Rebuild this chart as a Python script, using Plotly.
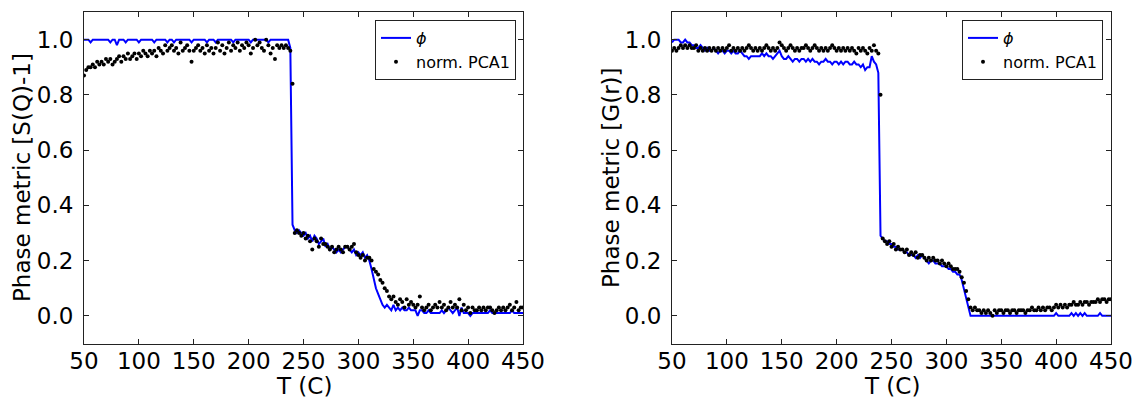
import plotly.graph_objects as go

T = list(range(50, 451, 2))

phi_sq = [
    1.00,1.00,1.00,0.99,1.00,1.00,1.00,1.00,1.00,1.00,
    1.00,1.00,0.99,1.00,1.00,0.98,1.00,1.00,1.00,0.99,
    1.00,1.00,1.00,1.00,1.00,0.99,1.00,1.00,1.00,1.00,
    1.00,1.00,0.99,1.00,1.00,1.00,1.00,1.00,0.99,1.00,
    1.00,0.99,1.00,1.00,1.00,1.00,1.00,1.00,1.00,0.99,
    1.00,1.00,1.00,1.00,1.00,1.00,0.99,1.00,1.00,1.00,
    0.99,1.00,1.00,1.00,1.00,1.00,1.00,1.00,0.99,1.00,
    1.00,1.00,1.00,1.00,1.00,1.00,0.99,1.00,1.00,1.00,
    1.00,1.00,1.00,1.00,0.99,1.00,1.00,1.00,1.00,1.00,
    1.00,1.00,1.00,1.00,0.97,0.33,0.31,0.30,0.31,0.30,
    0.29,0.30,0.28,0.29,0.27,0.29,0.28,0.26,0.27,0.28,
    0.25,0.26,0.24,0.25,0.24,0.23,0.24,0.23,0.24,0.25,
    0.25,0.24,0.23,0.24,0.22,0.23,0.22,0.23,0.21,0.22,
    0.20,0.17,0.13,0.10,0.08,0.06,0.04,0.03,0.04,0.03,
    0.02,0.04,0.02,0.03,0.02,0.03,0.02,0.02,0.03,0.02,
    0.02,0.02,0.00,0.02,0.02,0.01,0.01,0.02,0.01,0.01,
    0.01,0.01,0.01,0.02,0.01,0.02,0.03,0.02,0.01,0.02,
    0.03,0.00,0.03,0.01,0.01,0.01,0.00,0.01,0.01,0.01,
    0.01,0.01,0.01,0.01,0.01,0.02,0.01,0.01,0.01,0.01,
    0.01,0.01,0.01,0.01,0.01,0.02,0.01,0.01,0.01,0.01,
    0.01,
]

pca_sq = [
    0.87,0.89,0.90,0.90,0.91,0.90,0.92,0.91,0.92,0.91,
    0.93,0.92,0.93,0.91,0.92,0.93,0.94,0.92,0.94,0.93,
    0.95,0.93,0.94,0.95,0.93,0.95,0.94,0.96,0.95,0.94,
    0.96,0.95,0.96,0.94,0.97,0.96,0.95,0.98,0.96,0.97,
    0.98,0.96,0.97,0.95,0.99,0.96,0.97,0.98,0.96,0.92,
    0.96,0.97,0.98,0.96,0.97,0.95,0.98,0.96,0.97,0.95,
    0.97,0.99,0.96,0.98,0.95,0.97,0.99,0.96,0.98,0.97,
    0.99,0.96,0.98,0.97,0.99,0.98,0.95,0.97,1.00,0.98,
    0.99,0.97,0.96,1.00,0.98,0.95,0.97,0.93,0.98,0.97,
    0.98,0.97,0.98,0.97,0.96,0.84,0.30,0.31,0.30,0.29,
    0.30,0.28,0.29,0.27,0.24,0.28,0.27,0.25,0.28,0.26,
    0.26,0.25,0.24,0.25,0.23,0.24,0.25,0.24,0.23,0.25,
    0.25,0.24,0.25,0.26,0.23,0.22,0.21,0.22,0.20,0.21,
    0.21,0.20,0.17,0.16,0.15,0.13,0.12,0.10,0.09,0.07,
    0.06,0.07,0.05,0.04,0.06,0.05,0.03,0.06,0.04,0.05,
    0.04,0.03,0.04,0.07,0.03,0.02,0.03,0.04,0.02,0.03,
    0.04,0.03,0.05,0.03,0.04,0.02,0.03,0.05,0.03,0.04,
    0.03,0.06,0.02,0.04,0.02,0.03,0.01,0.03,0.02,0.02,
    0.03,0.02,0.03,0.02,0.03,0.03,0.02,0.01,0.02,0.03,
    0.02,0.03,0.02,0.03,0.04,0.02,0.03,0.05,0.02,0.03,
    0.03,
]

phi_gr = [
    0.99,1.00,1.00,1.00,0.99,0.99,1.00,0.99,0.99,0.98,
    0.98,0.97,0.97,0.98,0.97,0.96,0.97,0.96,0.96,0.97,
    0.96,0.95,0.96,0.96,0.95,0.96,0.96,0.95,0.96,0.95,
    0.95,0.96,0.95,0.94,0.94,0.93,0.94,0.94,0.94,0.94,
    0.94,0.95,0.94,0.95,0.94,0.94,0.93,0.94,0.95,0.96,
    0.94,0.93,0.93,0.94,0.93,0.92,0.93,0.93,0.92,0.93,
    0.93,0.92,0.93,0.92,0.93,0.92,0.92,0.91,0.92,0.92,
    0.93,0.92,0.92,0.91,0.92,0.92,0.91,0.92,0.91,0.92,
    0.92,0.91,0.91,0.92,0.91,0.91,0.90,0.91,0.89,0.90,
    0.90,0.94,0.92,0.91,0.88,0.29,0.28,0.27,0.27,0.26,
    0.26,0.25,0.25,0.24,0.24,0.24,0.23,0.23,0.22,0.22,
    0.22,0.21,0.22,0.21,0.22,0.21,0.20,0.19,0.20,0.20,
    0.19,0.19,0.19,0.18,0.18,0.18,0.17,0.17,0.16,0.16,
    0.15,0.15,0.13,0.10,0.07,0.03,0.00,0.00,0.00,0.00,
    0.00,0.00,0.00,0.00,0.00,0.00,0.00,0.00,0.00,0.00,
    0.00,0.00,0.00,0.00,0.00,0.00,0.00,0.00,0.00,0.00,
    0.00,0.00,0.00,0.00,0.00,0.00,0.00,0.00,0.00,0.00,
    0.00,0.00,0.00,0.00,0.00,0.01,0.00,0.00,0.00,0.00,
    0.00,0.00,0.01,0.00,0.01,0.00,0.01,0.00,0.01,0.00,
    0.00,0.00,0.00,0.00,0.00,0.01,0.00,0.00,0.00,0.00,
    0.00,
]

pca_gr = [
    0.96,0.97,0.96,0.97,0.98,0.97,0.98,0.97,0.98,0.97,
    0.97,0.98,0.96,0.97,0.96,0.97,0.96,0.97,0.96,0.97,
    0.96,0.97,0.96,0.97,0.96,0.97,0.98,0.96,0.97,0.96,
    0.97,0.96,0.97,0.96,0.97,0.98,0.97,0.96,0.97,0.96,
    0.97,0.96,0.97,0.98,0.97,0.96,0.97,0.96,0.97,0.99,
    0.98,0.97,0.96,0.97,0.98,0.97,0.96,0.97,0.96,0.97,
    0.97,0.98,0.97,0.96,0.97,0.98,0.97,0.96,0.97,0.96,
    0.97,0.96,0.97,0.98,0.97,0.96,0.97,0.96,0.97,0.96,
    0.97,0.96,0.97,0.96,0.95,0.97,0.96,0.97,0.96,0.95,
    0.97,0.96,0.98,0.96,0.95,0.80,0.28,0.27,0.26,0.27,
    0.25,0.26,0.24,0.25,0.24,0.24,0.23,0.24,0.22,0.23,
    0.22,0.23,0.21,0.22,0.22,0.21,0.20,0.21,0.20,0.21,
    0.20,0.20,0.19,0.20,0.19,0.18,0.19,0.18,0.17,0.17,
    0.17,0.16,0.14,0.12,0.09,0.06,0.03,0.02,0.03,0.02,
    0.02,0.01,0.02,0.01,0.02,0.01,0.00,0.02,0.01,0.02,
    0.02,0.01,0.02,0.02,0.01,0.02,0.02,0.01,0.02,0.02,
    0.02,0.01,0.02,0.02,0.03,0.02,0.02,0.03,0.02,0.03,
    0.02,0.03,0.03,0.02,0.03,0.04,0.03,0.04,0.03,0.04,
    0.03,0.04,0.04,0.05,0.04,0.04,0.05,0.04,0.05,0.05,
    0.04,0.05,0.05,0.05,0.06,0.05,0.06,0.06,0.05,0.06,
    0.06,
]

x_ticks = [50, 100, 150, 200, 250, 300, 350, 400, 450]
y_ticks = [0.0, 0.2, 0.4, 0.6, 0.8, 1.0]
y_titles = ["Phase metric [S(Q)-1]", "Phase metric [G(r)]"]

W, H = 1136, 398
FONT = "DejaVu Sans"
FS = 23

fig = go.Figure()

panels = [(phi_sq, pca_sq, "x", "y", "legend"), (phi_gr, pca_gr, "x2", "y2", "legend2")]
for phi, pca, xa, ya, lg in panels:
    fig.add_trace(go.Scatter(x=T, y=phi, mode="lines", name="<i>ϕ</i>",
                             line=dict(color="#0000ff", width=2),
                             xaxis=xa, yaxis=ya, legend=lg))
    fig.add_trace(go.Scatter(x=T, y=pca, mode="markers", name="norm. PCA1",
                             marker=dict(color="black", size=4),
                             xaxis=xa, yaxis=ya, legend=lg))

dom_x = [[84 / W, 523 / W], [672 / W, 1111 / W]]
dom_y = [1 - 343.5 / H, 1 - 12 / H]

axis_common = dict(showgrid=False, zeroline=False, showline=True, linecolor="#222",
                   linewidth=1, mirror="ticks", ticks="inside", ticklen=5,
                   automargin=False,
                   tickcolor="#222", tickfont=dict(family=FONT, size=FS, color="black"))

layout = dict(
    width=W, height=H, margin=dict(l=0, r=0, t=0, b=0, autoexpand=False),
    paper_bgcolor="white", plot_bgcolor="white", showlegend=True,
    xaxis=dict(domain=dom_x[0], range=[50, 450], tickvals=x_ticks, anchor="y",
               ticklabelstandoff=-3, **axis_common),
    yaxis=dict(domain=dom_y, range=[-0.1, 1.1], tickvals=y_ticks, tickformat=".1f",
               anchor="x", ticklabelstandoff=5, **axis_common),
    xaxis2=dict(domain=dom_x[1], range=[50, 450], tickvals=x_ticks, anchor="y2",
                ticklabelstandoff=-3, **axis_common),
    yaxis2=dict(domain=dom_y, range=[-0.1, 1.1], tickvals=y_ticks, tickformat=".1f",
                anchor="x2", ticklabelstandoff=5, **axis_common),
    legend=dict(x=516 / W, y=1 - 20 / H, xanchor="right", yanchor="top",
                bordercolor="#222", borderwidth=1, bgcolor="white",
                font=dict(family=FONT, size=16, color="black")),
    legend2=dict(x=1103 / W, y=1 - 20 / H, xanchor="right", yanchor="top",
                 bordercolor="#222", borderwidth=1, bgcolor="white",
                 font=dict(family=FONT, size=16, color="black")),
)
fig.update_layout(**layout)

annotations = []
for i in range(2):
    cx = (dom_x[i][0] + dom_x[i][1]) / 2
    annotations.append(dict(text="T (C)", x=cx, y=1 - 386 / H, xref="paper", yref="paper",
                            showarrow=False, xanchor="center", yanchor="middle",
                            font=dict(family=FONT, size=FS, color="black")))
yt_x = [22, 611]
for i in range(2):
    annotations.append(dict(text=y_titles[i], x=yt_x[i] / W, y=1 - 178 / H, xref="paper",
                            yref="paper", showarrow=False, textangle=-90,
                            xanchor="center", yanchor="middle",
                            font=dict(family=FONT, size=FS, color="black")))
fig.update_layout(annotations=annotations)

fig.write_html("out.html")
